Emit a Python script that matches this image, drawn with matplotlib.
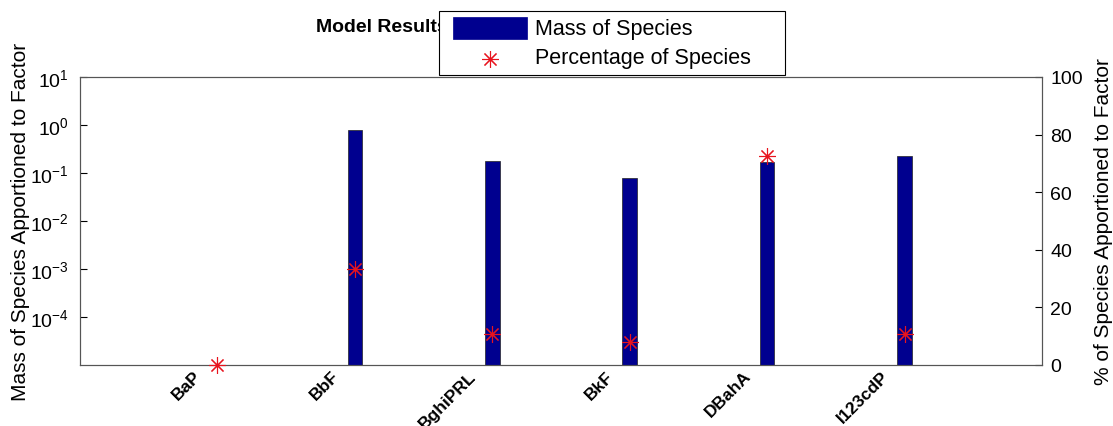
import matplotlib
matplotlib.use("Agg")
import matplotlib.pyplot as plt
import numpy as np
from matplotlib.patches import Rectangle
from matplotlib.lines import Line2D
from matplotlib.transforms import ScaledTranslation

plt.rcParams['font.family'] = ['Liberation Sans', 'DejaVu Sans']
plt.rcParams['mathtext.fontset'] = 'custom'
plt.rcParams['mathtext.rm'] = 'Liberation Sans'
plt.rcParams['mathtext.it'] = 'Liberation Sans:italic'
plt.rcParams['mathtext.bf'] = 'Liberation Sans:bold'

species = ["BaP", "BbF", "BghiPRL", "BkF", "DBahA", "I123cdP"]
mass = [np.nan, 0.787, 0.175, 0.077, 0.166, 0.222]
percent = [0.0, 33.5, 10.9, 8.0, 72.4, 10.9]

W, H = 1113, 427
fig = plt.figure(figsize=(W/100, H/100), dpi=100)
x0, x1, y0, y1 = 80, 1042, 78, 366
ax = fig.add_axes([x0/W, 1 - y1/H, (x1-x0)/W, (y1-y0)/H])
ax2 = ax.twinx()

x = np.arange(1, len(species) + 1)
navy = (0, 0, 0.56)
red = '#e8141e'
star = (8, 2, 0)
m = np.array(mass, dtype=float)
ax.bar(x, np.where(np.isnan(m), 0, m), width=0.105, bottom=1e-6, color=navy,
       edgecolor='#222222', linewidth=0.5, zorder=2)
ax.set_yscale('log')
ax.set_ylim(1e-5, 10)
ax.set_xlim(0, 7)
ax.set_yticks([1e-4, 1e-3, 1e-2, 1e-1, 1e0, 1e1])
ax.set_yticklabels([r'$\mathregular{10^{%d}}$' % e for e in range(-4, 2)])
ax.yaxis.set_minor_locator(matplotlib.ticker.NullLocator())
ax.set_xticks(x)
ax.set_xticklabels([])
off = ScaledTranslation(-24/100, -3/100, fig.dpi_scale_trans)
tr = matplotlib.transforms.blended_transform_factory(ax.transData, ax.transAxes) + off
for xi, name in zip(x, species):
    ax.text(xi, 0, name, transform=tr, rotation=45, ha='right', va='top',
            rotation_mode='anchor', fontweight='bold', fontsize=12.5)
ax.tick_params(axis='y', direction='in', labelsize=14, length=5, pad=8)
ax.tick_params(axis='x', direction='in', length=3)
ax.set_ylabel('Mass of Species Apportioned to Factor', fontsize=15, labelpad=0)

ax2.plot(x, percent, linestyle='none', marker=star, color=red, markersize=12,
         markeredgewidth=0.8, zorder=3, clip_on=False)
ax2.set_ylim(0, 100)
ax2.set_yticks([0, 20, 40, 60, 80, 100])
ax2.tick_params(axis='y', direction='in', labelsize=14, length=5, pad=6)
ax2.set_ylabel('% of Species Apportioned to Factor', fontsize=15, labelpad=8)

for a in (ax, ax2):
    for s in a.spines.values():
        s.set_color('#555555')
        s.set_linewidth(0.8)

def fx(px):
    return px / W

def fy(py):
    return 1 - py / H

fig.text(fx(316), fy(28), 'Model Results', fontsize=14, fontweight='bold',
         ha='left', va='center')

# legend drawn in figure pixel coordinates
fig.patches.append(Rectangle((fx(439), fy(76)), fx(785) - fx(439), fy(12) - fy(76),
                             transform=fig.transFigure, facecolor='white',
                             edgecolor='black', linewidth=0.8, zorder=10))
fig.patches.append(Rectangle((fx(453), fy(40)), fx(527) - fx(453), fy(18) - fy(40),
                             transform=fig.transFigure, facecolor=navy,
                             edgecolor=navy, linewidth=0.5, zorder=11))
fig.lines.append(Line2D([fx(490)], [fy(60)], transform=fig.transFigure,
                        linestyle='none', marker=star, color=red,
                        markersize=12, markeredgewidth=0.8, zorder=11))
fig.text(fx(535), fy(29), 'Mass of Species', fontsize=15.5, ha='left',
         va='center', zorder=12)
fig.text(fx(535), fy(59), 'Percentage of Species', fontsize=15.5, ha='left',
         va='center', zorder=12)

fig.savefig('out.png', dpi=100)
